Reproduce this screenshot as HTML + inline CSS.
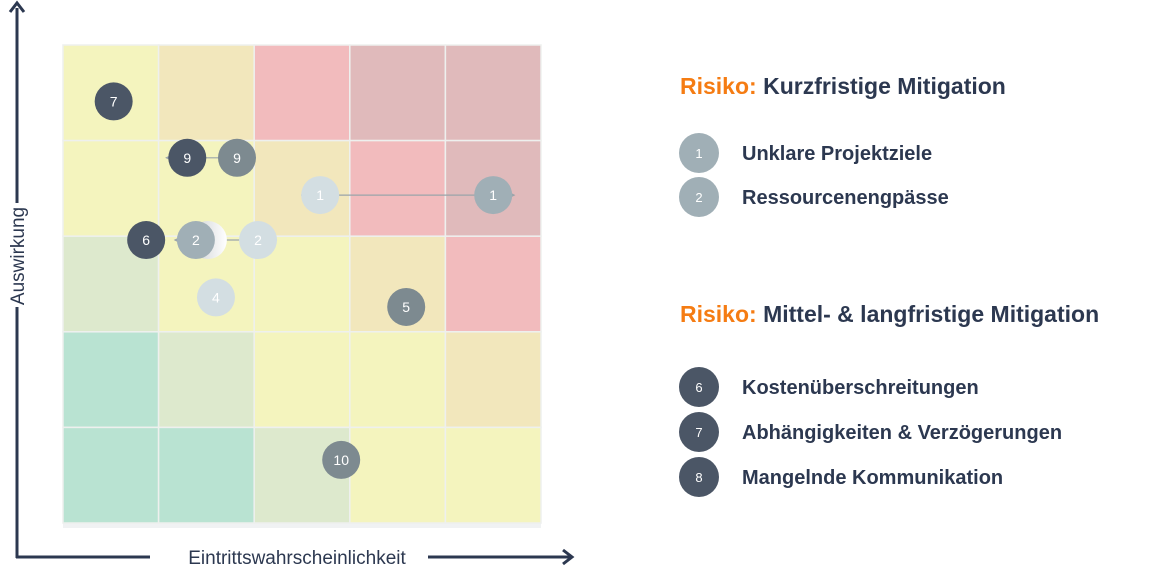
<!DOCTYPE html>
<html><head><meta charset="utf-8"><style>
body{margin:0;width:1152px;height:576px;background:#fff;overflow:hidden;font-family:"Liberation Sans",sans-serif}
svg{position:absolute;left:0;top:0}
</style></head><body>
<svg width="1152" height="576">
<defs>
<marker id="ah" markerWidth="6" markerHeight="6" refX="5" refY="3" orient="auto"><path d="M0,0 L6,3 L0,6 z" fill="#9aa4aa"/></marker>
<linearGradient id="sh" x1="0" x2="1"><stop offset="0" stop-color="#c9cdd0"/><stop offset="1" stop-color="#ffffff"/></linearGradient>
</defs>
<g id="grid"></g>
<g id="arrows"></g>
<g id="points"></g>
<g>
<line x1="17" y1="8" x2="17" y2="203" stroke="#2c3850" stroke-width="3"/>
<line x1="17" y1="307" x2="17" y2="558" stroke="#2c3850" stroke-width="3"/>
<path d="M10,12 L17,3 L24,12" fill="none" stroke="#2c3850" stroke-width="3"/>
<text x="0" y="0" transform="translate(24,256) rotate(-90)" text-anchor="middle" font-size="19" fill="#2c3850">Auswirkung</text>
</g>
<g>
<line x1="16" y1="557" x2="150" y2="557" stroke="#2c3850" stroke-width="3"/>
<line x1="428" y1="557" x2="571" y2="557" stroke="#2c3850" stroke-width="3"/>
<path d="M563,550 L572,557 L563,564" fill="none" stroke="#2c3850" stroke-width="3"/>
<text x="297" y="564" text-anchor="middle" font-size="19" fill="#2c3850">Eintrittswahrscheinlichkeit</text>
</g>
<g font-weight="bold">
<text x="680" y="94" font-size="23" fill="#2c3850"><tspan fill="#f57c13">Risiko:</tspan> Kurzfristige Mitigation</text>
<text x="680" y="322" font-size="23" fill="#2c3850"><tspan fill="#f57c13">Risiko:</tspan> Mittel- &amp; langfristige Mitigation</text>
<g id="legend-items"></g>
</g>
</svg>
<script>
const impactRows=[5,4,3,2,1];
const levels=[[1,2,3,4,4],[1,1,2,3,4],[0,1,1,2,3],[-1,0,1,1,2],[-1,-1,0,1,1]];
const pointLabels=["7","9","9","1","1","6","2","2","4","5","10"];
const probValues=[0.53,1.30,1.82,2.69,4.50,0.87,1.39,2.04,1.60,3.59,2.91];
const impactValues=[4.41,3.82,3.82,3.43,3.43,2.96,2.96,2.96,2.36,2.26,0.66];
const pointTone=["dark","dark","grey","light","mid","dark","mid","light","light","grey","grey"];
const moves=[[2,1],[3,4],[7,6]];
const legendLabels=["1","2","6","7","8"];
const legendTexts=["Unklare Projektziele","Ressourcenengpässe","Kostenüberschreitungen","Abhängigkeiten & Verzögerungen","Mangelnde Kommunikation"];
const legendTone=["mid","mid","dark","dark","dark"];
const X0=63,Y0=523,S=95.6;
const xs=v=>X0+v*S, ys=v=>Y0-v*S;
const tone={dark:"#4b5666",grey:"#7d8a90",mid:"#a0afb6",light:"#d3dee2"};
const cellCol={"-1":"#b9e3d2","0":"#dde9cd","1":"#f4f4be","2":"#f2e7bc","3":"#f2bbbd","4":"#e0babb"};
const NS="http://www.w3.org/2000/svg";
function mk(t,a,p){const e=document.createElementNS(NS,t);for(const k in a)e.setAttribute(k,a[k]);p.appendChild(e);return e;}
const grid=document.getElementById('grid');
const strip=mk('rect',{x:X0,y:Y0,width:5*S,height:5,fill:'#f0f2f3'},grid);


impactRows.forEach((r,i)=>{for(let c=0;c<5;c++){
 const e=mk('rect',{x:xs(c),y:ys(r),width:S,height:S,fill:cellCol[levels[i][c]],stroke:'#eef0ee','stroke-width':1.5},grid);
 
 
}});
const ar=document.getElementById('arrows');
moves.forEach(([a,b])=>{
 const dx=xs(probValues[b])-xs(probValues[a]);const d=Math.sign(dx);
 const e=mk('line',{x1:xs(probValues[a])-d*19,y1:ys(impactValues[a]),x2:xs(probValues[b])+d*21,y2:ys(impactValues[b]),stroke:'#9aa4aa','stroke-width':1.2,'marker-end':'url(#ah)'},ar);
 
 
});
const pts=document.getElementById('points');
// shadow behind moved 2
const shd=mk('circle',{cx:xs(probValues[6])+12,cy:ys(impactValues[6]),r:19,fill:'url(#sh)'},pts);


pointLabels.forEach((l,i)=>{
 const g=mk('g',{},pts);
 
 
 mk('circle',{cx:xs(probValues[i]),cy:ys(impactValues[i]),r:19,fill:tone[pointTone[i]]},g);
 const t=mk('text',{x:xs(probValues[i]),y:ys(impactValues[i])+5,'text-anchor':'middle','font-size':14,fill:'#fff'},g);
 t.textContent=l;
});
const li=document.getElementById('legend-items');
const ly=[153,197,387,432,477];
legendLabels.forEach((l,i)=>{
 const g=mk('g',{},li);
 
 
 mk('circle',{cx:699,cy:ly[i],r:20,fill:tone[legendTone[i]]},g);
 const n=mk('text',{x:699,y:ly[i]+5,'text-anchor':'middle','font-size':13,'font-weight':'normal',fill:'#fff'},g);
 n.textContent=l;
 const t=mk('text',{x:742,y:ly[i]+7,'font-size':20,fill:'#2c3850'},g);
 t.textContent=legendTexts[i];
});
</script>
</body></html>
